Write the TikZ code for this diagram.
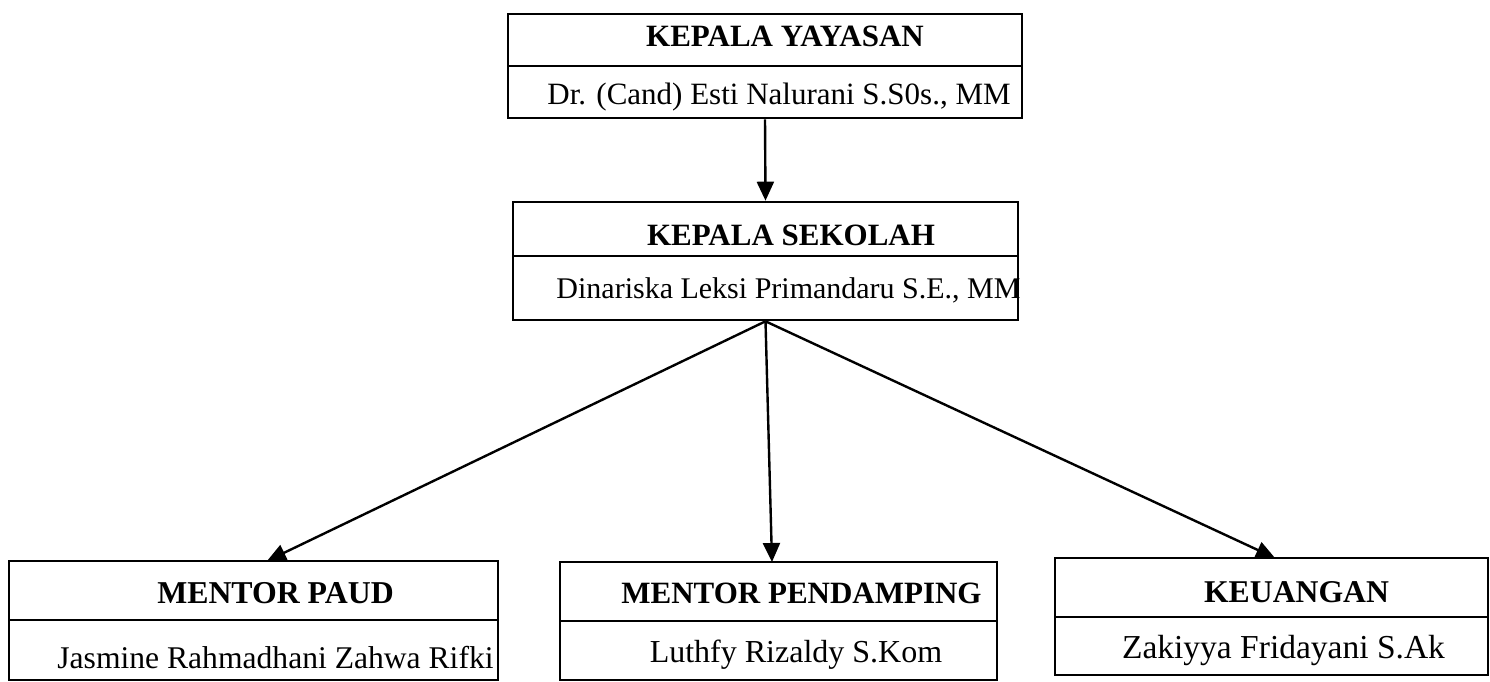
\documentclass[tikz,border=0pt]{standalone}
\usepackage{fontspec}
\setmainfont{Liberation Serif}
\usetikzlibrary{arrows.meta}
\begin{document}
\begin{tikzpicture}[x=1pt,y=-1pt,
  part/.style={draw, line width=2.6pt, inner sep=0pt},
  ttl/.style={anchor=base, font=\fontsize{31}{34}\selectfont\bfseries},
  nm/.style={anchor=base, font=\fontsize{31}{34}\selectfont},
  conn/.style={line width=2.4pt, -{Triangle[length=19pt,width=17pt]}}]
\useasboundingbox (0,0) rectangle (1490,682);
% boxes
\node[part, minimum width=514pt, minimum height=52pt] (ky1) at (765,40) {};
\node[part, minimum width=514pt, minimum height=52pt] (ky2) at (765,92) {};
\node[part, minimum width=505pt, minimum height=54pt] (ks1) at (765.5,229) {};
\node[part, minimum width=505pt, minimum height=64pt] (ks2) at (765.5,288) {};
\node[part, minimum width=489pt, minimum height=59pt] (mp1) at (253.5,590.5) {};
\node[part, minimum width=489pt, minimum height=60pt] (mp2) at (253.5,650) {};
\node[part, minimum width=437pt, minimum height=59pt] (pd1) at (778.5,591.5) {};
\node[part, minimum width=437pt, minimum height=59pt] (pd2) at (778.5,650.5) {};
\node[part, minimum width=433pt, minimum height=59pt] (ku1) at (1271.5,587.5) {};
\node[part, minimum width=433pt, minimum height=58pt] (ku2) at (1271.5,646) {};
% texts
\node[ttl] (tky) at (785,47) {KEPALA YAYASAN};
\node[nm] (nky) at (779,105) {Dr. (Cand) Esti Nalurani S.S0s., MM};
\node[ttl] (tks) at (791,245) {KEPALA SEKOLAH};
\node[nm, font=\fontsize{30}{33}\selectfont] (nks) at (788.5,298) {Dinariska Leksi Primandaru S.E., MM};
\node[ttl, font=\fontsize{31.8}{34}\selectfont\bfseries] (tmp) at (275.5,603) {MENTOR PAUD};
\node[nm, font=\fontsize{31.6}{34}\selectfont] (nmp) at (275.5,668) {Jasmine Rahmadhani Zahwa Rifki};
\node[ttl] (tpd) at (801.5,603) {MENTOR PENDAMPING};
\node[nm, font=\fontsize{32}{34}\selectfont] (npd) at (796,662) {Luthfy Rizaldy S.Kom};
\node[ttl, font=\fontsize{31.7}{34}\selectfont\bfseries] (tku) at (1296.5,602) {KEUANGAN};
\node[nm, font=\fontsize{33.5}{36}\selectfont] (nku) at (1283.5,658) {Zakiyya Fridayani S.Ak};
% connectors
\coordinate (amp) at (267,561);
\coordinate (apd) at (772,562);
\coordinate (aku) at (1275,558);
\draw[conn] (ky2.south) -- (ks1.north);
\draw[conn] (ks2.south) -- (amp);
\draw[conn] (ks2.south) -- (apd);
\draw[conn] (ks2.south) -- (aku);
\end{tikzpicture}
\end{document}
